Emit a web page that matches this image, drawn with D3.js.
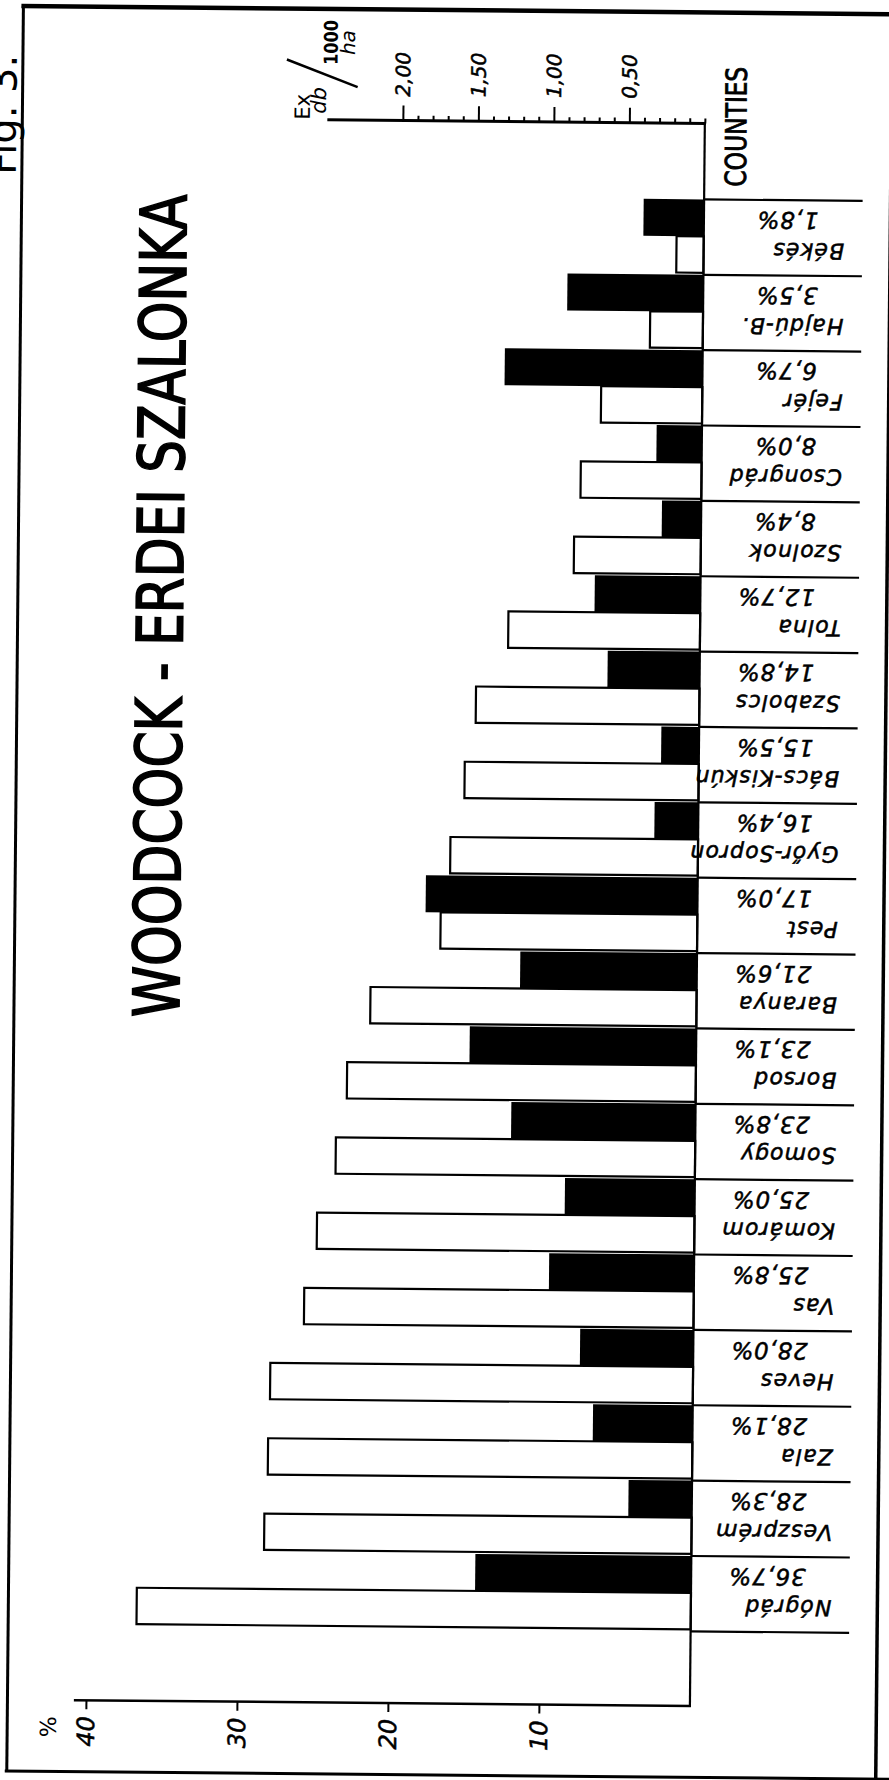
<!DOCTYPE html>
<html><head><meta charset="utf-8">
<script src="https://cdn.jsdelivr.net/npm/d3@7/dist/d3.min.js"></script>
<style>body{margin:0;background:#fff}</style>
</head><body>
<svg id="chart" width="889" height="1780" xmlns="http://www.w3.org/2000/svg"></svg>
<script>
// ---- data ----
const counties = ["Békés","Hajdú-B.","Fejér","Csongrád","Szolnok","Tolna","Szabolcs","Bács-Kiskún","Győr-Sopron","Pest","Baranya","Borsod","Somogy","Komárom","Vas","Heves","Zala","Veszprém","Nógrád"];
// white bars: share of forest (%)
const forestShare = [1.8,3.5,6.7,8.0,8.4,12.7,14.8,15.5,16.4,17.0,21.6,23.1,23.8,25.0,25.8,28.0,28.1,28.3,36.7];
// black bars: bag, Ex db / 1000 ha
const density = [0.40,0.90,1.31,0.30,0.26,0.70,0.61,0.25,0.29,1.80,1.17,1.50,1.22,0.86,0.96,0.75,0.66,0.42,1.43];
const densityTicks = [0.5,1.0,1.5,2.0];
const densityTickLabels = ["0,50","1,00","1,50","2,00"];
const pctTicks = [10,20,30,40];
const pctTickLabels = ["10","20","30","40"];
const titleText = "WOODCOCK - ERDEI SZALONKA";
const countiesLabel = "COUNTIES";
const figLabel = "Fig. 3.";

// ---- layout ----
const svg = d3.select("#chart");
const g = svg.append("g").attr("transform","rotate(0.54,445,900)");
const B = 697.5;               // common baseline (zero) of both scales
const topAxisY = 121, botAxisY = 1703.6;
const xDen = d3.scaleLinear().domain([0, 1]).range([B, B - 151]);
const xPct = d3.scaleLinear().domain([0, 10]).range([B, B - 151]);
const y = d3.scaleBand().domain(counties).range([197, 1629]);
const bw = y.bandwidth();
const rows = counties.map((c,i)=>({c, pct: forestShare[i], den: density[i]}));
const lettering = "'DejaVu Sans', 'Liberation Sans', sans-serif";
const narrow = "'Liberation Sans Narrow', 'DejaVu Sans Condensed', 'Liberation Sans', sans-serif";
const sepEnd = 856, nameX = 838, pctX = 812;

// frame
g.append("line").attr("x1",15).attr("x2",15).attr("y1",10).attr("y2",1776).attr("stroke","#000").attr("stroke-width",3);
g.append("line").attr("x1",13).attr("x2",910).attr("y1",10).attr("y2",10).attr("stroke","#000").attr("stroke-width",4.5);
g.append("line").attr("x1",13).attr("x2",910).attr("y1",1775).attr("y2",1775).attr("stroke","#000").attr("stroke-width",3);
g.append("line").attr("x1",884).attr("x2",884).attr("y1",10).attr("y2",1776).attr("stroke","#000").attr("stroke-width",3.5);

// Fig. label (cut at left edge as in the scan)
g.append("text").attr("transform","translate(9,179) rotate(-90)")
  .attr("font-family",lettering).attr("font-size",40).attr("fill","#000").text(figLabel);

// title
g.append("text").attr("transform","translate(180,1020) rotate(-90)")
  .attr("font-family",narrow).attr("font-size",64)
  .attr("stroke","#000").attr("stroke-width",1.6)
  .attr("textLength",823).attr("lengthAdjust","spacingAndGlyphs").attr("fill","#000").text(titleText);

// top axis (density)
const tickVals = d3.range(0, 21).map(i=>i/10);
const minorAxis = d3.axisTop(xDen).tickValues(tickVals.filter(v=>Math.round(v*10)%5!==0 || v===0)).tickSize(5).tickFormat("");
const majorAxis = d3.axisTop(xDen).tickValues(densityTicks).tickSize(15).tickFormat("");
const ta1 = g.append("g").attr("transform",`translate(0,${topAxisY})`).call(minorAxis);
const ta2 = g.append("g").attr("transform",`translate(0,${topAxisY})`).call(majorAxis);
[ta1,ta2].forEach(a=>{a.select(".domain").remove(); a.selectAll("line").attr("stroke","#000").attr("stroke-width",2);});
g.append("line").attr("x1",xDen(2.5)).attr("x2",B+1).attr("y1",topAxisY).attr("y2",topAxisY).attr("stroke","#000").attr("stroke-width",3);
g.selectAll(".dtl").data(densityTicks).join("text").attr("class","dtl")
  .attr("transform",d=>`translate(${xDen(d)},97) rotate(-90)`)
  .attr("dy","0.35em").attr("font-family",lettering).attr("font-style","italic").attr("font-size",20)
  .attr("stroke","#000").attr("stroke-width",0.5)
  .attr("fill","#000").text((d,i)=>densityTickLabels[i]);

// unit label Ex db / 1000 ha
const unit = g.append("g").attr("font-family",lettering).attr("fill","#000");
unit.append("text").attr("transform","translate(295,121) rotate(-90)").attr("dy","0.35em").attr("font-size",21).text("Ex");
unit.append("text").attr("transform","translate(311,115) rotate(-90)").attr("dy","0.35em").attr("font-size",21).attr("font-style","italic").text("db");
unit.append("line").attr("x1",279).attr("y1",61).attr("x2",350).attr("y2",88).attr("stroke","#000").attr("stroke-width",2.5);
unit.append("text").attr("transform","translate(323,66) rotate(-90)").attr("dy","0.35em").attr("font-size",19).attr("font-weight","bold").attr("textLength",45).attr("lengthAdjust","spacingAndGlyphs").text("1000");
unit.append("text").attr("transform","translate(340,56) rotate(-90)").attr("dy","0.35em").attr("font-size",20).attr("font-style","italic").text("ha");

// COUNTIES label
g.append("text").attr("transform","translate(739,184) rotate(-90)")
  .attr("font-family",narrow).attr("font-size",29).attr("textLength",120).attr("lengthAdjust","spacingAndGlyphs")
  .attr("stroke","#000").attr("stroke-width",0.8)
  .attr("fill","#000").text(countiesLabel);

// bars
const barH = 37;
g.selectAll(".black").data(rows).join("rect").attr("class","black")
  .attr("x",d=>xDen(d.den)).attr("y",d=>y(d.c)).attr("width",d=>B-xDen(d.den)).attr("height",barH).attr("fill","#000");
g.selectAll(".white").data(rows).join("rect").attr("class","white")
  .attr("x",d=>xPct(d.pct)).attr("y",d=>y(d.c)+barH).attr("width",d=>B-xPct(d.pct)).attr("height",bw-barH-2)
  .attr("fill","#fff").attr("stroke","#000").attr("stroke-width",2.2);

// row separators
const seps = counties.map(c=>y(c)).concat([y.range()[1]]);
g.selectAll(".sep").data(seps).join("line").attr("class","sep")
  .attr("x1",B).attr("x2",sepEnd).attr("y1",d=>d).attr("y2",d=>d).attr("stroke","#000").attr("stroke-width",2.2);

// baseline
g.append("line").attr("x1",B).attr("x2",B).attr("y1",topAxisY-1).attr("y2",botAxisY+1).attr("stroke","#000").attr("stroke-width",2.2);

// row labels (upside down)
const fmt = v => v.toFixed(1).replace(".", ",") + "%";
g.selectAll(".name").data(rows).join("text").attr("class","name")
  .attr("transform",d=>`translate(${nameX},${y(d.c)+43}) rotate(180)`)
  .attr("font-family",lettering).attr("font-style","italic").attr("font-size",22).attr("letter-spacing",1.1)
  .attr("stroke","#000").attr("stroke-width",0.55)
  .attr("fill","#000").text(d=>d.c);
g.selectAll(".pct").data(rows).join("text").attr("class","pct")
  .attr("transform",d=>`translate(${pctX},${y(d.c)+12}) rotate(180)`)
  .attr("font-family",lettering).attr("font-style","italic").attr("font-size",23).attr("letter-spacing",0.8)
  .attr("stroke","#000").attr("stroke-width",0.5)
  .attr("fill","#000").text(d=>fmt(d.pct));

// bottom axis (%)
const botAxis = d3.axisBottom(xPct).tickValues(pctTicks).tickSize(9).tickFormat("");
const ba = g.append("g").attr("transform",`translate(0,${botAxisY})`).call(botAxis);
ba.select(".domain").remove(); ba.selectAll("line").attr("stroke","#000").attr("stroke-width",2);
g.append("line").attr("x1",xPct(40.8)).attr("x2",B+1).attr("y1",botAxisY).attr("y2",botAxisY).attr("stroke","#000").attr("stroke-width",2.5);
g.selectAll(".ptl").data(pctTicks).join("text").attr("class","ptl")
  .attr("transform",d=>`translate(${xPct(d)},1750) rotate(-90)`)
  .attr("dy","0.35em").attr("font-family",lettering).attr("font-style","italic").attr("font-size",24)
  .attr("stroke","#000").attr("stroke-width",0.5)
  .attr("fill","#000").text((d,i)=>pctTickLabels[i]);
g.append("text").attr("transform","translate(56,1741) rotate(-90)").attr("dy","0.35em")
  .attr("font-family",lettering).attr("font-size",22).attr("fill","#000").text("%");
</script>
</body></html>
